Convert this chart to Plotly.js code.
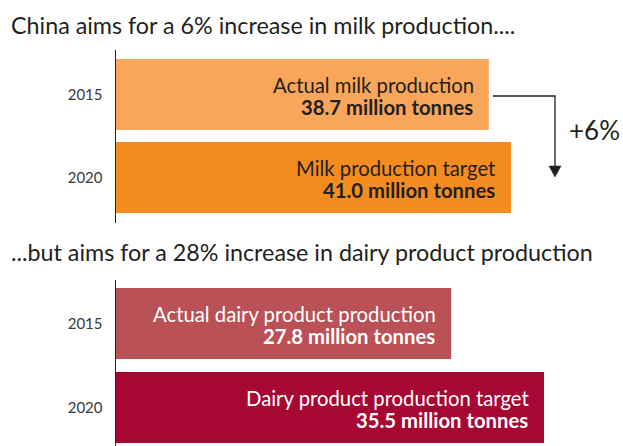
<!DOCTYPE html>
<html>
<head>
<meta charset="utf-8">
<script src="https://cdn.plot.ly/plotly-3.0.1.min.js"></script>
<style>html,body{margin:0;padding:0;background:#fff;}#chart{width:623px;height:446px;}</style>
</head>
<body>
<div id="chart"></div>
<script>
// ---- data ----
var years = ["2015", "2020"];
var milkValues = [38.7, 41.0];
var dairyValues = [27.8, 35.5];
var milkLabels = ["Actual milk production", "Milk production target"];
var dairyLabels = ["Actual dairy product production", "Dairy product production target"];
var milkColors = ["#F9A65A", "#F58C1F"];
var dairyColors = ["#B95156", "#A60733"];
var title1 = "China aims for a 6% increase in milk production....";
var title2 = "...but aims for a 28% increase in dairy product production";
var changeLabel = "+6%";
var unit = "million tonnes";

var W = 623, H = 446;
function px(x){ return x / W; }
function py(y){ return 1 - y / H; }
var FONT = "Lato, 'Open Sans', sans-serif";
var DARK = "#231f20";

var traces = [
  {type: "bar", orientation: "h", y: years, x: milkValues, marker: {color: milkColors},
   width: 0.855, xaxis: "x", yaxis: "y", hoverinfo: "none", showlegend: false},
  {type: "bar", orientation: "h", y: years, x: dairyValues, marker: {color: dairyColors},
   width: 0.845, xaxis: "x2", yaxis: "y2", hoverinfo: "none", showlegend: false}
];

var annotations = [
  {text: title1, xref: "paper", yref: "paper", x: px(9), y: py(25), xanchor: "left", yanchor: "middle",
   showarrow: false, font: {family: FONT, size: 23.3, color: DARK}},
  {text: title2, xref: "paper", yref: "paper", x: px(9), y: py(252), xanchor: "left", yanchor: "middle",
   showarrow: false, font: {family: FONT, size: 23.3, color: DARK}},
  {text: changeLabel, xref: "paper", yref: "paper", x: px(567), y: py(130), xanchor: "left", yanchor: "middle",
   showarrow: false, font: {family: FONT, size: 26, color: DARK}}
];
function addBarLabels(values, labels, xr, yr, color){
  values.forEach(function(v, i){
    annotations.push({text: labels[i],
      xref: xr, yref: yr, x: v, y: i, xanchor: "right", yanchor: "middle", align: "right",
      xshift: -14, yshift: 9.5, showarrow: false, borderpad: 0, font: {family: FONT, size: 20.3, color: color}});
    annotations.push({text: "<b>" + v.toFixed(1) + " " + unit + "</b>",
      xref: xr, yref: yr, x: v, y: i, xanchor: "right", yanchor: "middle", align: "right",
      xshift: -15, yshift: -12.5, showarrow: false, borderpad: 0, font: {family: FONT, size: 20.3, color: color}});
  });
}
addBarLabels(milkValues, milkLabels, "x", "y", DARK);
addBarLabels(dairyValues, dairyLabels, "x2", "y2", "#ffffff");

var shapes = [
  {type: "path", xref: "paper", yref: "paper",
   path: "M" + px(493) + "," + py(96) + " L" + px(555) + "," + py(96) + " L" + px(555) + "," + py(167),
   line: {color: DARK, width: 1.3}},
  {type: "path", xref: "paper", yref: "paper",
   path: "M" + px(549) + "," + py(166) + " L" + px(561) + "," + py(166) + " L" + px(555) + "," + py(177) + " Z",
   fillcolor: DARK, line: {color: DARK, width: 0.5}}
];

var yaxisBase = {type: "category", showline: true, linecolor: DARK, linewidth: 1.5, ticks: "",
  showgrid: false, zeroline: false, fixedrange: true, ticklabelstandoff: 9,
  tickfont: {family: FONT, size: 15, color: "#3a3a3a"}};
var xaxisBase = {showline: false, showgrid: false, zeroline: false, showticklabels: false, ticks: "", fixedrange: true};

var layout = {
  width: W, height: H, margin: {l: 0, r: 0, t: 0, b: 0},
  paper_bgcolor: "#ffffff", plot_bgcolor: "#ffffff",
  bargap: 0.15,
  xaxis: Object.assign({}, xaxisBase, {domain: [px(116), 1], range: [0, 52.63], anchor: "y"}),
  yaxis: Object.assign({}, yaxisBase, {domain: [py(223), py(50)], range: [1.548, -0.536], anchor: "x"}),
  xaxis2: Object.assign({}, xaxisBase, {domain: [px(116), 1], range: [0, 42.05], anchor: "y2"}),
  yaxis2: Object.assign({}, yaxisBase, {domain: [0, py(280)], range: [1.458, -0.518], anchor: "x2"}),
  annotations: annotations,
  shapes: shapes,
  showlegend: false
};

Plotly.newPlot("chart", traces, layout, {displayModeBar: false, staticPlot: true});
</script>
</body>
</html>
